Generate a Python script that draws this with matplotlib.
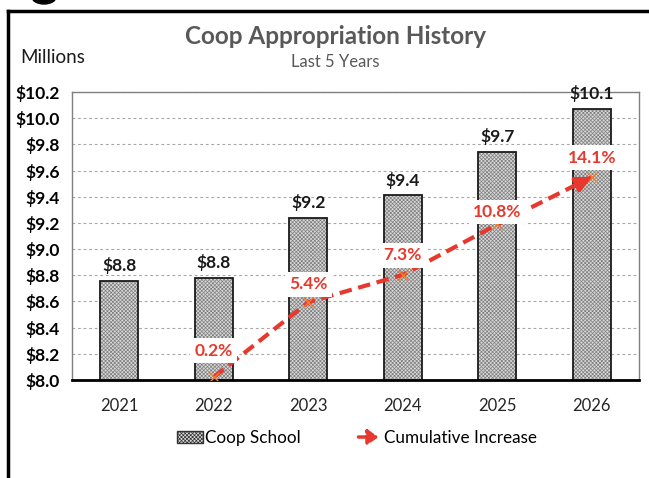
import matplotlib
matplotlib.use("Agg")
import matplotlib.pyplot as plt
from matplotlib.patches import Patch, FancyArrowPatch, Ellipse
from matplotlib.legend_handler import HandlerBase
from matplotlib.lines import Line2D
import numpy as np

plt.rcParams['font.family'] = ['Lato', 'DejaVu Sans']
plt.rcParams['hatch.linewidth'] = 0.5

# ---- data ----
years = ["2021", "2022", "2023", "2024", "2025", "2026"]
appropriation = [8.76, 8.78, 9.24, 9.41, 9.74, 10.07]
value_labels = ["$8.8", "$8.8", "$9.2", "$9.4", "$9.7", "$10.1"]
cum_years_idx = [1, 2, 3, 4, 5]
cum_increase = [0.2, 5.4, 7.3, 10.8, 14.1]
cum_labels = ["0.2%", "5.4%", "7.3%", "10.8%", "14.1%"]
yticks = [8.0, 8.2, 8.4, 8.6, 8.8, 9.0, 9.2, 9.4, 9.6, 9.8, 10.0, 10.2]

RED = '#E8382E'
HATCH = 'xxxxxxxxx'
W, H = 649, 478
fig = plt.figure(figsize=(W / 100, H / 100), dpi=100)
fig.patch.set_facecolor('white')

ax = fig.add_axes([72 / W, 1 - 380 / H, (639 - 72) / W, (380 - 92) / H])
x = np.arange(len(years))

ax.bar(x, appropriation, width=0.4, bottom=0, color='#d9d9d9', edgecolor='#808080',
       hatch=HATCH, linewidth=0, zorder=2)
ax.bar(x, appropriation, width=0.4, fill=False, edgecolor='#1a1a1a', linewidth=1.3, zorder=3)

ax.set_ylim(8.0, 10.2)
ax.set_xlim(-0.5, len(years) - 0.5)
ax.set_yticks(yticks)
ax.set_yticklabels([f"${v:.1f}" for v in yticks], fontweight='bold', fontsize=12.5)
ax.set_xticks(x)
ax.set_xticklabels(years, fontsize=12, color='#262626')
ax.tick_params(axis='y', length=0, pad=9)
ax.tick_params(axis='x', length=0, pad=13)
ax.yaxis.grid(True, linestyle=(0, (2.5, 2.5)), color='#a6a6a6', linewidth=0.8, zorder=0)
ax.set_axisbelow(True)
for s in ['left', 'top', 'right']:
    ax.spines[s].set_color('#808080')
    ax.spines[s].set_linewidth(1.0)
ax.spines['bottom'].set_color('black')
ax.spines['bottom'].set_linewidth(2.0)
ax.spines['bottom'].set_zorder(6)

for xi, v, lab in zip(x, appropriation, value_labels):
    ax.annotate(lab, (xi, v), xytext=(0, 11), textcoords='offset points',
                ha='center', va='center', fontsize=12.5, fontweight='bold', color='#1a1a1a')

# ---- cumulative increase on hidden secondary axis ----
ax2 = ax.twinx()
ax2.set_ylim(0, 20)
ax2.set_axis_off()
ax2.plot(cum_years_idx, cum_increase, color=RED, linewidth=3, linestyle=(0, (3, 1.6)),
         zorder=4, solid_capstyle='butt')
ax2.plot(cum_years_idx, cum_increase, linestyle='none', marker='x', color='#ED7D31',
         markersize=7, markeredgewidth=1.0, zorder=5)
# arrow head on final segment
t = 0.8
xs = cum_years_idx[-2] + t * (cum_years_idx[-1] - cum_years_idx[-2])
ys = cum_increase[-2] + t * (cum_increase[-1] - cum_increase[-2])
ax2.annotate('', xy=(cum_years_idx[-1], cum_increase[-1]), xytext=(xs, ys),
             arrowprops=dict(arrowstyle='-|>,head_length=0.9,head_width=0.45', color=RED,
                             lw=3, shrinkA=0, shrinkB=0), zorder=5)
label_offsets = [19, 13, 14, 9, 14]
for xi, v, lab, off in zip(cum_years_idx, cum_increase, cum_labels, label_offsets):
    ax2.annotate(lab, (xi, v), xytext=(0, off), textcoords='offset points',
                 ha='center', va='center', fontsize=12.5, fontweight='bold', color=RED,
                 bbox=dict(boxstyle='square,pad=0.25', fc='white', ec='none'), zorder=6)

# ---- titles ----
fig.text(335 / W, 1 - 37 / H, "Coop Appropriation History", ha='center', va='center',
         fontsize=17.5, fontweight='bold', color='#595959')
fig.text(335 / W, 1 - 62 / H, "Last 5 Years", ha='center', va='center',
         fontsize=12, color='#595959')
fig.text(20 / W, 1 - 57 / H, "Millions", ha='left', va='center', fontsize=13.5, color='#1a1a1a')


# ---- legend ----
class HandlerArrow(HandlerBase):
    def create_artists(self, legend, orig_handle, xdescent, ydescent, width, height,
                       fontsize, trans):
        y = height / 2 - ydescent
        arr = FancyArrowPatch((-xdescent, y), (-xdescent + width, y),
                              arrowstyle='-|>,head_length=0.5,head_width=0.35',
                              mutation_scale=fontsize, color=RED, lw=2.5,
                              linestyle=(0, (2, 1)), transform=trans)
        return [arr]


bar_handle = Patch(facecolor='#d9d9d9', edgecolor='#333333', hatch=HATCH, linewidth=1)
arrow_handle = Line2D([], [], color=RED)
fig.legend([bar_handle, arrow_handle], ["Coop School", "Cumulative Increase"],
           loc='center', bbox_to_anchor=(357 / W, 1 - 438 / H), ncol=2, frameon=False,
           fontsize=12.3, handlelength=1.5, handletextpad=0.15, columnspacing=3.2,
           handler_map={arrow_handle: HandlerArrow()})

# ---- outer frame ----
fig.add_artist(Line2D([8 / W, 8 / W], [0, 1 - 11 / H], color='black', lw=2.5,
                      transform=fig.transFigure))
fig.add_artist(Line2D([8 / W, 1], [1 - 11 / H, 1 - 11 / H], color='black', lw=2.5,
                      transform=fig.transFigure))
fig.add_artist(Ellipse((44 / W, 1 + 3 / H), 24 / W, 14 / H, color='black',
                       transform=fig.transFigure))

fig.savefig("out.png", dpi=100)
